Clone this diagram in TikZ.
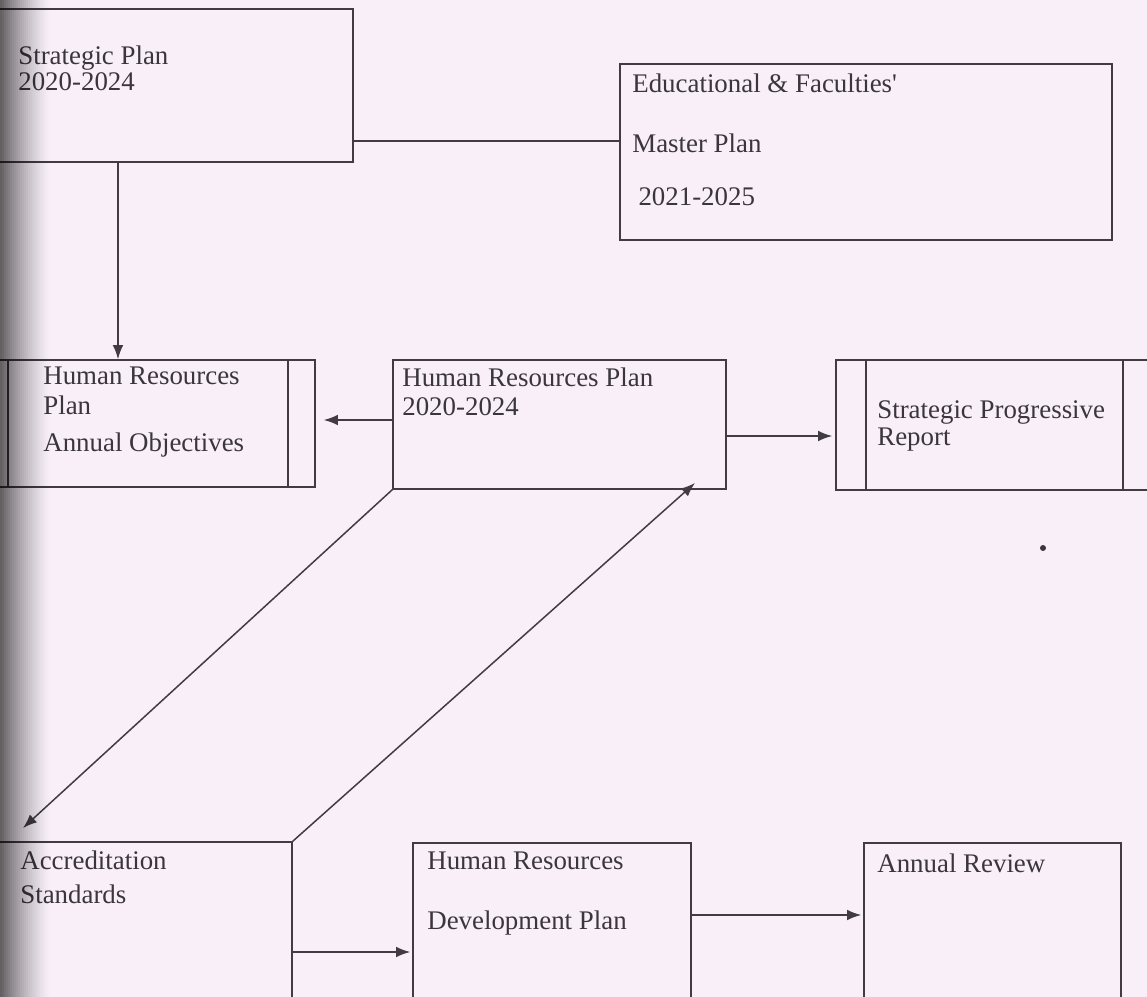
\documentclass[tikz,border=0pt]{standalone}
\usepackage{fontspec}
\setmainfont{Liberation Serif}
\usetikzlibrary{positioning,fit,arrows.meta}
\definecolor{paper}{RGB}{248,239,248}
\definecolor{ink}{RGB}{58,54,60}
\definecolor{rule}{RGB}{64,60,66}
\tikzset{
  box/.style={draw=rule, line width=0.85pt, inner sep=0pt},
  txt/.style={text=ink, font=\fontsize{15.3}{15.3}\selectfont, align=left, inner sep=0pt, anchor=north west},
  arr/.style={draw=rule, line width=0.85pt, -{Latex[length=8pt,width=6pt]}},
  link/.style={draw=rule, line width=0.85pt}
}
\begin{document}
\begin{tikzpicture}[x=0.02cm,y=-0.02cm]
 \useasboundingbox (0,0) rectangle (1147,997);
 \clip (0,0) rectangle (1147,997);
 \fill[paper] (0,0) rectangle (1147,997);
 % boxes
 \node[box, fit={(-20,9) (353,162)}] (sp) {};
 \node[box, fit={(620,64) (1112,240)}] (em) {};
 \node[box, fit={(-19,360) (315,487)}] (hrao) {};
 \node[box, fit={(393,360) (726,489)}] (hrp) {};
 \node[box, fit={(836,360) (1175,490)}] (spr) {};
 \node[box, fit={(-20,842) (292,1020)}] (acc) {};
 \node[box, fit={(413,843) (691,1020)}] (hrdp) {};
 \node[box, fit={(864,843) (1121,1020)}] (ar) {};
 % side bars
 \draw[link] (hrao.north east -| 288,0) -- (hrao.south east -| 288,0);
 \draw[link] (hrao.north west -| 8,0) -- (hrao.south west -| 8,0);
 \draw[link] (spr.north west -| 866,0) -- (spr.south west -| 866,0);
 \draw[link] (spr.north east -| 1123,0) -- (spr.south east -| 1123,0);
 % texts
 \node[txt] (tsp) at (18,45) {Strategic Plan\\2020-2024};
 \node[txt] (tem) at (632,73) {Educational \& Faculties\textquotesingle\\[19.3pt]Master Plan\\[14.7pt]\hspace{3.5pt}2021-2025};
 \node[txt] (thrao) at (43,367) {Human Resources\\[1.5pt]Plan\\[5.5pt]Annual Objectives};
 \node[txt] (thrp) at (402,367) {Human Resources Plan\\[1.5pt]2020-2024};
 \node[txt] (tspr) at (877,400) {Strategic Progressive\\Report};
 \node[txt] (tacc) at (20,850) {Accreditation\\[4.5pt]Standards};
 \node[txt] (thrdp) at (427,852) {Human Resources\\[18.7pt]Development Plan};
 \node[txt] (tar) at (877,853) {Annual Review};
 % connectors
 \coordinate (acctip) at (23,828);
 \coordinate (hrptip) at (695,483);
 \draw[link] (sp.east |- 0,141) -- (em.west |- 0,141);
 \draw[arr] (sp.south -| 118,0) -- (hrao.north -| 118,0);
 \draw[arr, shorten >=0.16cm] (hrp.west |- 0,420) -- (hrao.east |- 0,420);
 \draw[arr, shorten >=0.06cm] (hrp.east |- 0,436) -- (spr.west |- 0,436);
 \draw[arr] (hrp.south west) -- (acctip);
 \draw[arr] (acc.north east) -- (hrptip);
 \draw[arr, shorten >=0.04cm] (acc.east |- 0,952) -- (hrdp.west |- 0,952);
 \draw[arr, shorten >=0.04cm] (hrdp.east |- 0,915) -- (ar.west |- 0,915);
 \fill[ink] (1043,548) circle (3);
 % binding shadow
 \foreach \i in {0,...,24}{
   \pgfmathsetmacro\op{0.6*(1-\i/25)^1.4}
   \fill[black, opacity=\op] (\i*2,0) rectangle (\i*2+2.2,997);
 }
\end{tikzpicture}
\end{document}
